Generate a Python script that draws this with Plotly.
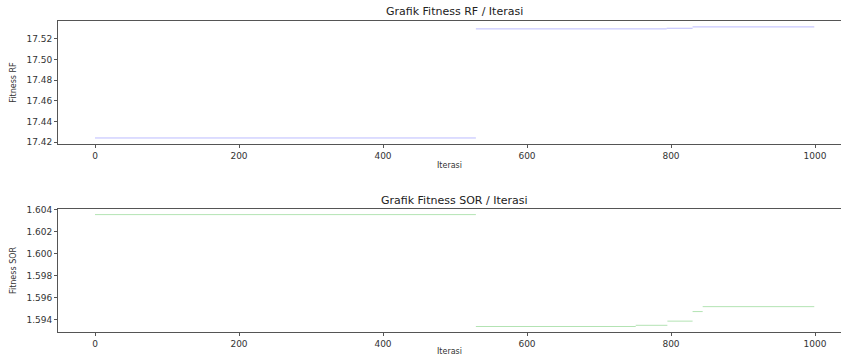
import plotly.graph_objects as go

# Data (step segments)
rf_starts = [0, 529, 794, 830]
rf_ends = [529, 794, 830, 999]
rf_values = [17.4242, 17.5294, 17.5300, 17.5313]

sor_starts = [0, 529, 751, 795, 830, 844]
sor_ends = [529, 751, 795, 830, 844, 999]
sor_values = [1.60358, 1.59339, 1.59350, 1.59388, 1.59475, 1.59520]

x_ticks = [0, 200, 400, 600, 800, 1000]
rf_ticks = [17.42, 17.44, 17.46, 17.48, 17.50, 17.52]
sor_ticks = [1.594, 1.596, 1.598, 1.600, 1.602, 1.604]


def seg_xy(starts, ends, values):
    xs, ys = [], []
    for s, e, v in zip(starts, ends, values):
        xs += [s, e, None]
        ys += [v, v, None]
    return xs, ys


W, H = 841, 356
fig = go.Figure()
x1, y1 = seg_xy(rf_starts, rf_ends, rf_values)
x2, y2 = seg_xy(sor_starts, sor_ends, sor_values)
fig.add_trace(go.Scatter(x=x1, y=y1, mode="lines", line=dict(color="rgba(170,170,255,0.8)", width=1),
                         xaxis="x", yaxis="y", showlegend=False))
fig.add_trace(go.Scatter(x=x2, y=y2, mode="lines", line=dict(color="rgba(160,220,160,0.8)", width=1),
                         xaxis="x2", yaxis="y2", showlegend=False))

font = dict(family="DejaVu Sans", size=9, color="#333")
lab_font = dict(family="DejaVu Sans", size=8, color="#333")
title_font = dict(family="DejaVu Sans", size=11, color="#222")
xrange = [(58 - 95) / 0.72, (841 - 95) / 0.72]
axis_common = dict(showgrid=False, zeroline=False, showline=True, linecolor="#555", linewidth=1,
                   ticks="outside", ticklen=3, tickcolor="#555", tickfont=font, automargin=False)

fig.update_layout(
    width=W, height=H, margin=dict(l=0, r=0, t=0, b=0, autoexpand=False),
    paper_bgcolor="white", plot_bgcolor="white",
    xaxis=dict(domain=[58 / W, 1], range=xrange, tickvals=x_ticks, mirror=True,
               anchor="y", title=dict(text="Iterasi", font=lab_font, standoff=2),
               **axis_common),
    yaxis=dict(domain=[1 - 144 / H, 1 - 21 / H], range=[17.4184, 17.537], tickvals=rf_ticks,
               tickformat=".2f", anchor="x",
               title=dict(text="Fitness RF", font=lab_font, standoff=8),
               **axis_common),
    xaxis2=dict(domain=[58 / W, 1], range=xrange, tickvals=x_ticks, mirror=True,
                anchor="y2", title=dict(text="Iterasi", font=lab_font, standoff=2),
                **axis_common),
    yaxis2=dict(domain=[1 - 332 / H, 1 - 209 / H], range=[1.59289, 1.60409], tickvals=sor_ticks,
                tickformat=".3f", anchor="x2",
                title=dict(text="Fitness SOR", font=lab_font, standoff=8),
                **axis_common),
    annotations=[
        dict(text="Grafik Fitness RF / Iterasi", x=454 / W, y=1 - 12 / H, xref="paper", yref="paper",
             showarrow=False, font=title_font, xanchor="center", yanchor="middle"),
        dict(text="Grafik Fitness SOR / Iterasi", x=454 / W, y=1 - 200 / H, xref="paper", yref="paper",
             showarrow=False, font=title_font, xanchor="center", yanchor="middle"),
    ],
)

fig.write_html("out.html", config={"displayModeBar": False},
               post_script="document.body.style.margin='0';document.body.style.overflow='hidden';")
